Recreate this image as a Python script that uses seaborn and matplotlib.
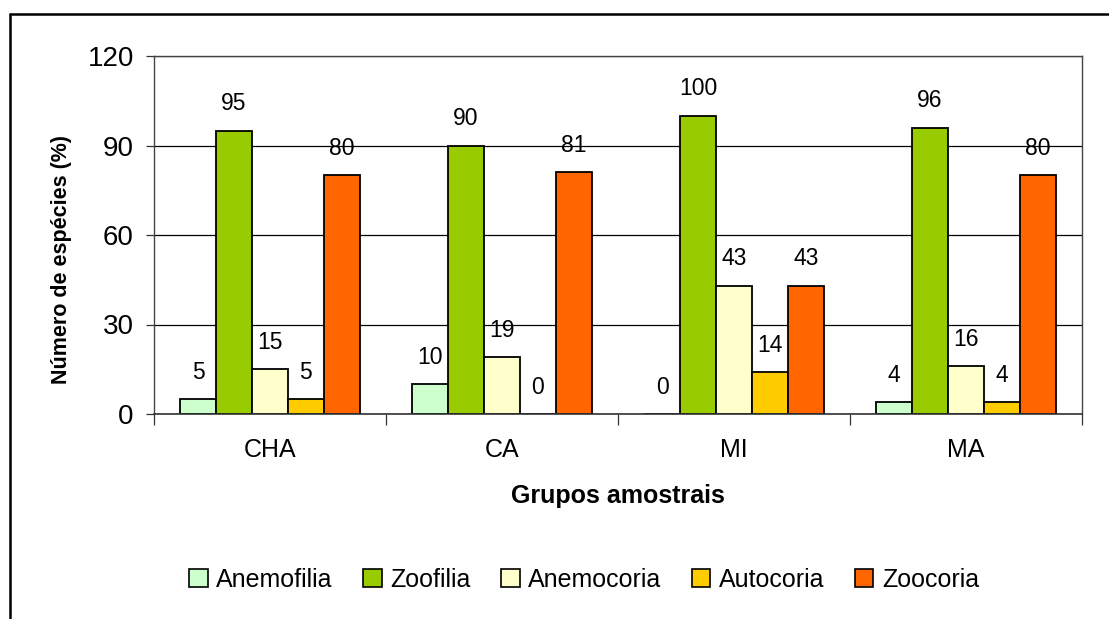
import numpy as np
import pandas as pd
import matplotlib
matplotlib.use("Agg")
import matplotlib.pyplot as plt
from matplotlib.lines import Line2D
import seaborn as sns

grupos = ["CHA", "CA", "MI", "MA"]
sindromes = ["Anemofilia", "Zoofilia", "Anemocoria", "Autocoria", "Zoocoria"]
anemofilia = [5, 10, 0, 4]
zoofilia = [95, 90, 100, 96]
anemocoria = [15, 19, 43, 16]
autocoria = [5, 0, 14, 4]
zoocoria = [80, 81, 43, 80]
cores = ["#CCFFCC", "#99CC00", "#FFFFCC", "#FFCC00", "#FF6600"]
yticks = [0, 30, 60, 90, 120]

series = [anemofilia, zoofilia, anemocoria, autocoria, zoocoria]
df = pd.DataFrame({
    "Grupo": [g for _ in sindromes for g in grupos],
    "Síndrome": [s for s in sindromes for _ in grupos],
    "Valor": [v for vals in series for v in vals],
})

sns.set_theme(style="white")
plt.rcParams["font.family"] = ["Liberation Sans", "DejaVu Sans"]
plt.rcParams["text.color"] = "black"
plt.rcParams["axes.labelcolor"] = "black"
plt.rcParams["xtick.color"] = "black"
plt.rcParams["ytick.color"] = "black"

fig = plt.figure(figsize=(11.09, 6.19), dpi=100)
ax = fig.add_axes([154 / 1109, 1 - 414 / 619, (1082 - 154) / 1109, (414 - 56) / 619])

sns.barplot(data=df, x="Grupo", y="Valor", hue="Síndrome", order=grupos,
            hue_order=sindromes, palette=cores, width=0.775, ax=ax,
            edgecolor="black", linewidth=1.3, saturation=1, legend=False,
            errorbar=None)

for cont in ax.containers:
    ax.bar_label(cont, fmt="%d", padding=11, fontsize=16.5, color="black")

ax.set_ylim(0, 120)
ax.set_xlim(-0.5, len(grupos) - 0.5)
ax.set_yticks(yticks)
ax.set_yticklabels([str(t) for t in yticks], fontsize=20)
ax.yaxis.grid(True, color="black", linewidth=0.9)
ax.set_axisbelow(True)

ax.set_xticks(range(len(grupos)))
ax.set_xticklabels(grupos, fontsize=18)
ax.tick_params(axis="x", length=0, pad=17.5)
ax.set_xticks(np.arange(len(grupos) + 1) - 0.5, minor=True)
ax.tick_params(axis="x", which="minor", length=8, width=0.9, color="#333333", bottom=True)
ax.tick_params(axis="y", length=6, width=0.9, color="#333333", left=True, pad=8.5)

for side in ["left", "top", "right"]:
    ax.spines[side].set_color("#444444")
    ax.spines[side].set_linewidth(1.0)
ax.spines["bottom"].set_color("#333333")
ax.spines["bottom"].set_linewidth(1.2)

ax.set_xlabel("Grupos amostrais", fontsize=18, fontweight="bold")
ax.set_ylabel("Número de espécies (%)", fontsize=15.5, fontweight="bold")
ax.xaxis.set_label_coords((618 - 154) / 928, (414 - 484) / 358)
ax.yaxis.set_label_coords((72 - 154) / 928, (414 - 260) / 358)

handles = [plt.Rectangle((0, 0), 1, 1, facecolor=c, edgecolor="black", linewidth=1.2)
           for c in cores]
fig.legend(handles, sindromes, loc="center", bbox_to_anchor=(584 / 1109, 1 - 580 / 619),
           ncol=5, frameon=False, fontsize=18, handlelength=0.75, handleheight=0.75,
           handletextpad=0.35, columnspacing=1.2)

# outer frame of the chart area
fig.add_artist(Line2D([10 / 1109, 1], [1 - 14 / 619, 1 - 14 / 619], color="black",
                      linewidth=1.8, transform=fig.transFigure))
fig.add_artist(Line2D([10 / 1109, 10 / 1109], [0, 1 - 14 / 619], color="black",
                      linewidth=1.8, transform=fig.transFigure))

fig.savefig("out.png", dpi=100)
